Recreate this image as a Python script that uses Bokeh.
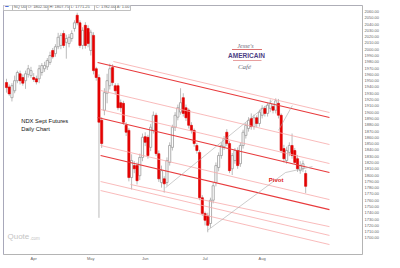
from bokeh.plotting import figure
from bokeh.models import FixedTicker, NumeralTickFormatter, Label, BoxAnnotation
from bokeh.embed import file_html
from bokeh.resources import INLINE

# ---------------- data ----------------
opens = [1947, 1940, 1923, 1934, 1950, 1961, 1955, 1950, 1960, 1958,
         1955, 1953, 1953, 1963, 1969, 1972, 1979, 1998, 1993, 2004,
         2006, 2025, 2011, 2009, 2017, 2033, 2054, 2042, 2006, 2038,
         2033, 1998, 2022, 1969, 1955, 1887, 1903, 1930, 1942, 1971,
         1942, 1942, 1915, 1914, 1879, 1871, 1796, 1815, 1815, 1799,
         1828, 1861, 1860, 1844, 1871, 1895, 1834, 1788, 1794, 1788,
         1820, 1844, 1876, 1892, 1900, 1923, 1907, 1903, 1879, 1871,
         1847, 1836, 1764, 1739, 1735, 1723, 1760, 1788, 1812, 1831,
         1845, 1868, 1850, 1810, 1823, 1839, 1818, 1847, 1863, 1874,
         1890, 1877, 1891, 1882, 1895, 1906, 1898, 1906, 1909, 1903,
         1914, 1895, 1842, 1823, 1836, 1847, 1839, 1826, 1807, 1810,
         1802.5]
highs = [1953, 1944, 1946, 1958, 1966, 1966, 1960, 1966, 1975, 1972,
         1962, 1958, 1975, 1978, 1980, 1986, 1996, 2002, 2008, 2026,
         2026, 2030, 2023, 2024, 2030, 2046, 2058, 2046, 2035, 2043,
         2038, 2031, 2027, 1972, 1960, 1892, 1938, 1961, 1977, 1976,
         1946, 1946, 1920, 1918, 1884, 1875, 1833, 1822, 1820, 1834,
         1866, 1868, 1864, 1881, 1901, 1899, 1839, 1815, 1798, 1828,
         1852, 1880, 1900, 1912, 1938, 1930, 1912, 1906, 1884, 1874,
         1851, 1840, 1768, 1742, 1740, 1764, 1788, 1820, 1836, 1852,
         1862, 1873, 1854, 1835, 1843, 1844, 1851, 1872, 1883, 1892,
         1898, 1896, 1895, 1904, 1911, 1910, 1915, 1920, 1914, 1922,
         1921, 1898, 1848, 1845, 1852, 1866, 1843, 1832, 1822, 1823,
         1807.75]
lows = [1931, 1926, 1917, 1930, 1946, 1944, 1942, 1937, 1955, 1954,
        1948, 1944, 1946, 1958, 1964, 1967, 1975, 1985, 1988, 2000,
        2000, 2002, 1985, 2003, 2012, 2028, 2038, 2002, 2000, 2001,
        2003, 1990, 1960, 1950, 1732, 1843, 1895, 1914, 1936, 1942,
        1928, 1903, 1900, 1880, 1862, 1790, 1777, 1803, 1785, 1792,
        1822, 1846, 1826, 1838, 1866, 1830, 1789, 1780, 1772, 1783,
        1815, 1839, 1870, 1887, 1896, 1893, 1886, 1874, 1866, 1845,
        1834, 1760, 1735, 1720, 1709, 1716, 1755, 1782, 1806, 1826,
        1840, 1846, 1803, 1800, 1818, 1810, 1813, 1842, 1858, 1869,
        1872, 1872, 1876, 1877, 1890, 1893, 1893, 1900, 1898, 1898,
        1890, 1835, 1820, 1818, 1830, 1826, 1818, 1805, 1802, 1805,
        1771.25]
closes = [1939, 1929, 1942, 1950, 1963, 1950, 1946, 1961, 1969, 1966,
          1952, 1948, 1969, 1974, 1974, 1982, 1990, 1988, 2004, 2019,
          2022, 2006, 2017, 2019, 2025, 2042, 2042, 2006, 2030, 2006,
          2009, 2027, 1966, 1955, 1884, 1850, 1931, 1950, 1969, 1947,
          1934, 1907, 1907, 1884, 1868, 1796, 1823, 1810, 1791, 1828,
          1860, 1852, 1831, 1876, 1895, 1834, 1794, 1807, 1786, 1823,
          1847, 1876, 1895, 1907, 1915, 1898, 1891, 1879, 1871, 1850,
          1839, 1764, 1739, 1728, 1720, 1760, 1783, 1815, 1831, 1847,
          1858, 1850, 1807, 1831, 1839, 1815, 1847, 1868, 1879, 1887,
          1877, 1891, 1882, 1900, 1906, 1898, 1911, 1914, 1903, 1918,
          1895, 1839, 1826, 1839, 1847, 1831, 1820, 1810, 1815, 1818,
          1782]

month_names = ["Apr", "May", "Jun", "Jul", "Aug"]
month_first_bar = [10, 31, 51, 73, 94]
price_ticks = list(range(1700, 2070, 10))

# channel lines (bar index / price at each end)
red_start_bar = [33.5, 33.5, 34.6]
red_start_price = [1979.0, 1891.5, 1831.0]
red_end_bar = [118.75, 118.75, 118.75]
red_end_price = [1891.5, 1804.0, 1745.0]

pink_start_bar = [39.3, 34.6, 34.6, 34.6, 45.6, 34.6, 34.6]
pink_start_price = [1980.5, 1934.4, 1904.2, 1847.0, 1785.0, 1789.7, 1775.4]
pink_end_bar = [118.75, 118.75, 118.75, 118.75, 118.75, 118.75, 118.75]
pink_end_price = [1899.4, 1848.5, 1818.3, 1761.0, 1718.0, 1704.0, 1689.5]

gray_start_bar = [58.5, 73.9, 102.6, 100.0]
gray_start_price = [1780.0, 1712.0, 1804.0, 1871.0]
gray_end_bar = [97.8, 102.6, 112.5, 105.1]
gray_end_price = [1918.5, 1804.0, 1813.5, 1910.5]

header_texts = ["NQ U0", "O: 1802.50", "H: 1807.75", "L: 1771.25", "C: 1782.00", "\u0394: 1.00"]

# ---------------- figure ----------------
W, H = 400, 268
p = figure(width=W, height=H, x_range=(-1.1, 130.9), y_range=(1673.7, 2069.5),
           output_backend="svg", toolbar_location=None, y_axis_location="right",
           min_border_left=3, min_border_right=38, min_border_top=5, min_border_bottom=14)
p.grid.visible = False
p.outline_line_color = "#b4b4b4"
p.background_fill_color = "white"
p.border_fill_color = "white"

yax = p.yaxis[0]
yax.ticker = FixedTicker(ticks=price_ticks)
yax.formatter = NumeralTickFormatter(format="0.00")
yax.major_label_text_font = "Liberation Sans"
yax.major_label_text_font_size = "4px"
yax.major_label_text_color = "#666666"
yax.major_tick_in = 0
yax.major_tick_out = 0
yax.minor_tick_in = 0
yax.minor_tick_out = 0
yax.axis_line_color = None
yax.major_label_standoff = 2

xax = p.xaxis[0]
xax.ticker = FixedTicker(ticks=month_first_bar)
xax.major_label_overrides = {b: n for b, n in zip(month_first_bar, month_names)}
xax.major_label_text_font = "Liberation Sans"
xax.major_label_text_font_size = "4px"
xax.major_label_text_color = "#666666"
xax.major_tick_in = 0
xax.major_tick_out = 0
xax.minor_tick_in = 0
xax.minor_tick_out = 0
xax.axis_line_color = None
xax.major_label_standoff = 1

# ---------------- candles ----------------
bars = list(range(len(opens)))
up_x = [i for i in bars if closes[i] >= opens[i]]
dn_x = [i for i in bars if closes[i] < opens[i]]

p.segment(x0=bars, y0=lows, x1=bars, y1=highs, line_color="#a9a9a9", line_width=0.8)
p.vbar(x=up_x, width=0.8, top=[closes[i] for i in up_x], bottom=[opens[i] for i in up_x],
       fill_color="white", line_color="#9c9c9c", line_width=0.8)
p.vbar(x=dn_x, width=0.8, top=[opens[i] for i in dn_x], bottom=[closes[i] for i in dn_x],
       fill_color="#e80000", line_color="#d80000", line_width=0.6)

# ---------------- channel / trend lines ----------------
p.segment(x0=pink_start_bar, y0=pink_start_price, x1=pink_end_bar, y1=pink_end_price,
          line_color="#f7aaaa", line_width=0.8)
p.segment(x0=red_start_bar, y0=red_start_price, x1=red_end_bar, y1=red_end_price,
          line_color="#e83a3c", line_width=1.1)
p.segment(x0=gray_start_bar, y0=gray_start_price, x1=gray_end_bar, y1=gray_end_price,
          line_color="#aaaaaa", line_width=0.6)


# ---------------- annotations (canvas pixel positions, y from top) ----------------
def box(l, t, r, b, fill=None, line=None, lw=1.0):
    bx = BoxAnnotation(left=l, right=r, top=t, bottom=b,
                       left_units="canvas", right_units="canvas",
                       top_units="canvas", bottom_units="canvas",
                       fill_color=fill, fill_alpha=1.0 if fill else 0.0,
                       line_color=line, line_width=lw, line_alpha=1.0 if line else 0.0)
    p.add_layout(bx)


def lab(x, y, text, size, color, font="Liberation Sans", style="normal", align="left"):
    p.add_layout(Label(x=x, y=y, x_units="canvas", y_units="canvas", text=text,
                       text_font=font, text_font_size=size, text_font_style=style,
                       text_color=color, text_align=align, text_baseline="middle"))


# outer chart box and shadow
box(383.5, 7, 387, 265.5, fill="#c4c4cc")
box(6, 262.5, 387, 265.5, fill="#c4c4cc")
box(3, 4.5, 383, 262, line="#9c9cc0", lw=1.0)
box(362, 254, 383, 254, line="#b4b4b4", lw=0.8)

# header
edges = [2.7, 12, 26, 47.7, 69, 94, 115, 130]
for k in range(len(edges) - 1):
    box(edges[k], 1.7, edges[k + 1], 10, fill="white", line="#b0b0b0", lw=0.8)
lab(4.2, 5.6, "~", "7px", "#2a4bd0", style="bold")
for k, t in enumerate(header_texts):
    lab(edges[k + 1] + 1.3, 6.0, t, "4px", "#555555")

# texts inside the chart
lab(20.7, 120.7, "NDX Sept Futures", "5.8px", "#111111")
lab(20.7, 128.3, "Daily Chart", "5.8px", "#111111")
lab(268.3, 179.3, "Pivot", "6px", "#e02020", style="bold")
lab(7, 236, "Quote", "8px", "#c4c4c4")
lab(29.5, 237.5, ".com", "4.5px", "#c4c4c4")
lab(365, 257.3, "Daily", "4px", "#666666")

# logo
box(231.5, 48.6, 261.5, 49.2, fill="#d04040")
box(232.5, 60.0, 261.0, 60.6, fill="#d04040")
lab(245, 45, "Jesse's", "6px", "#6a6a7a", font="Liberation Serif", style="italic", align="center")
lab(246, 54.5, "AMERICAIN", "6.5px", "#4d3f86", font="Liberation Sans", style="bold", align="center")
lab(244, 66, "Caf\u00e9", "7px", "#6a6a7a", font="Liberation Serif", style="italic", align="center")

open("out.html", "w").write(file_html(p, INLINE))
